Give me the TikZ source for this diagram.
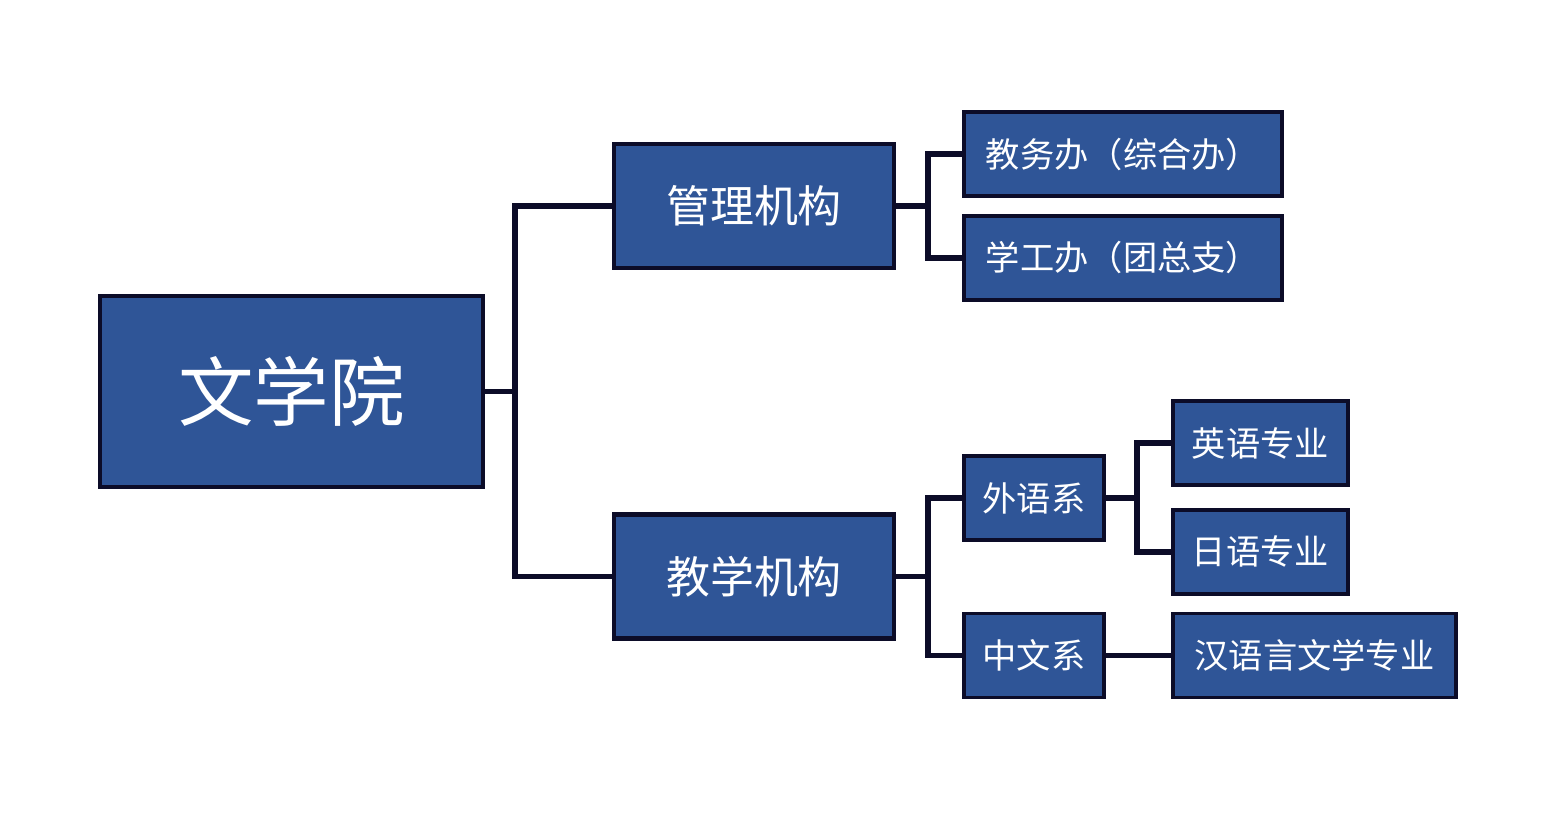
\documentclass[tikz,border=0pt]{standalone}
\usepackage{fontspec}
\setmainfont{Noto Sans CJK SC}
\usepackage{tikz}
\usetikzlibrary{positioning,calc}
\definecolor{orgBlue}{HTML}{2F5597}
\definecolor{orgNavy}{HTML}{0C0C28}
\tikzset{
    orgBoxBase/.style={
        rectangle,
        draw=orgNavy,
        fill=orgBlue,
        text=white,
        line width=1.9pt,
        inner sep=0pt,
        align=center
    },
    % Levels
    orgRoot/.style={orgBoxBase, minimum width=7.66cm, minimum height=3.82cm, line width=2.6pt, font=\fontsize{43}{50}\selectfont},
    orgDept/.style={orgBoxBase, minimum width=5.6cm, minimum height=2.48cm, line width=2.3pt, font=\fontsize{25}{30}\selectfont},
    orgUnit/.style={orgBoxBase, minimum height=1.68cm, font=\fontsize{19.5}{24}\selectfont},
    % Connectors
    orgLink/.style={draw=orgNavy, line width=3.3pt}
}
\begin{document}
\begin{tikzpicture}
    \useasboundingbox (0,0) rectangle (31.2,16.48);

    \node[orgRoot] (college) at (5.83,8.65) {文学院};
    \node[orgDept] (admin) at (15.08,12.36) {管理机构};
    \node[orgDept] (teach) at (15.08,4.95) {教学机构};

    \node[orgUnit, minimum width=6.36cm] (office) at (22.46,13.40) {教务办（综合办）};
    \node[orgUnit, minimum width=6.36cm, below=0.33cm of office] (student) {学工办（团总支）};

    \node[orgUnit, minimum width=2.8cm] (foreign) at (20.68,6.52) {外语系};
    \node[orgUnit, minimum width=2.8cm] (chinese) at (20.68,3.37) {中文系};

    \node[orgUnit, minimum width=3.5cm] (english) at (25.21,7.62) {英语专业};
    \node[orgUnit, minimum width=3.5cm, below=0.43cm of english] (japanese) {日语专业};
    \node[orgUnit, minimum width=5.66cm] (hanyu) at (26.29,3.37) {汉语言文学专业};

    % junctions
    \coordinate (jRoot) at (10.3,8.65);
    \coordinate (jAdmin) at (18.56,12.36);
    \coordinate (jTeach) at (18.56,4.95);
    \coordinate (jForeign) at (22.74,6.52);

    \draw[orgLink] (college.east) -- (jRoot);
    \draw[orgLink] (admin.west) -| (jRoot) |- (teach.west);
    \draw[orgLink] (admin.east) -- (jAdmin);
    \draw[orgLink] (office.west) -| (jAdmin) |- (student.west);
    \draw[orgLink] (teach.east) -- (jTeach);
    \draw[orgLink] (foreign.west) -| (jTeach) |- (chinese.west);
    \draw[orgLink] (foreign.east) -- (jForeign);
    \draw[orgLink] (english.west) -| (jForeign) |- (japanese.west);
    \draw[orgLink] (chinese) -- (hanyu);
\end{tikzpicture}
\end{document}
